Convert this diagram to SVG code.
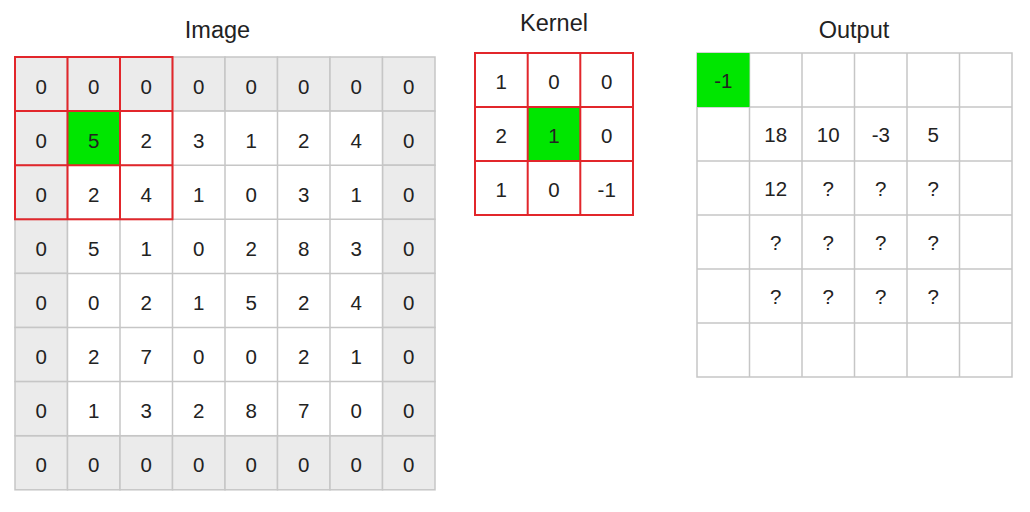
<svg xmlns="http://www.w3.org/2000/svg" width="1030" height="512" viewBox="0 0 1030 512">
<style>
.t{font-family:"Liberation Sans",Arial,sans-serif;font-size:20.5px;fill:#222;text-anchor:middle}
.h{font-family:"Liberation Sans",Arial,sans-serif;font-size:23.5px;fill:#222;text-anchor:middle}
.g{fill:#ebebeb;stroke:#c6c6c6;stroke-width:1.5}
.w{fill:#fff;stroke:#c6c6c6;stroke-width:1.5}
.r{fill:none;stroke:#e2262b;stroke-width:2}
.gr{fill:#00e600}
</style>
<rect width="1030" height="512" fill="#fff"/>
<g id="titles">
<text class="h" x="217.5" y="38">Image</text>
<text class="h" x="554" y="31">Kernel</text>
<text class="h" x="854" y="38">Output</text>
</g>
<g id="image">
<rect class="g" x="15" y="57" width="52.5" height="54.1"/><rect class="g" x="67.5" y="57" width="52.5" height="54.1"/><rect class="g" x="120" y="57" width="52.5" height="54.1"/><rect class="g" x="172.5" y="57" width="52.5" height="54.1"/><rect class="g" x="225" y="57" width="52.5" height="54.1"/><rect class="g" x="277.5" y="57" width="52.5" height="54.1"/><rect class="g" x="330" y="57" width="52.5" height="54.1"/><rect class="g" x="382.5" y="57" width="52.5" height="54.1"/>
<rect class="g" x="15" y="435.7" width="52.5" height="54.1"/><rect class="g" x="67.5" y="435.7" width="52.5" height="54.1"/><rect class="g" x="120" y="435.7" width="52.5" height="54.1"/><rect class="g" x="172.5" y="435.7" width="52.5" height="54.1"/><rect class="g" x="225" y="435.7" width="52.5" height="54.1"/><rect class="g" x="277.5" y="435.7" width="52.5" height="54.1"/><rect class="g" x="330" y="435.7" width="52.5" height="54.1"/><rect class="g" x="382.5" y="435.7" width="52.5" height="54.1"/>
<rect class="g" x="15" y="111.1" width="52.5" height="54.1"/><rect class="g" x="15" y="165.2" width="52.5" height="54.1"/><rect class="g" x="15" y="219.3" width="52.5" height="54.1"/><rect class="g" x="15" y="273.4" width="52.5" height="54.1"/><rect class="g" x="15" y="327.5" width="52.5" height="54.1"/><rect class="g" x="15" y="381.6" width="52.5" height="54.1"/>
<rect class="g" x="382.5" y="111.1" width="52.5" height="54.1"/><rect class="g" x="382.5" y="165.2" width="52.5" height="54.1"/><rect class="g" x="382.5" y="219.3" width="52.5" height="54.1"/><rect class="g" x="382.5" y="273.4" width="52.5" height="54.1"/><rect class="g" x="382.5" y="327.5" width="52.5" height="54.1"/><rect class="g" x="382.5" y="381.6" width="52.5" height="54.1"/>
<rect class="w" x="67.5" y="111.1" width="315" height="324.6"/>
<g fill="none" stroke="#c6c6c6" stroke-width="1.5">
<path d="M120 111.1V435.7M172.5 111.1V435.7M225 111.1V435.7M277.5 111.1V435.7M330 111.1V435.7M67.5 165.2H382.5M67.5 219.3H382.5M67.5 273.4H382.5M67.5 327.5H382.5M67.5 381.6H382.5"/>
</g>
<rect class="gr" x="67.5" y="111.1" width="52.5" height="54.1"/>
<g class="r">
<rect x="15" y="57" width="157.5" height="162.3"/>
<path d="M67.5 57V219.3M120 57V219.3M15 111.1H172.5M15 165.2H172.5"/>
</g>
<g class="t">
<text x="41.25" y="93.5">0</text><text x="93.75" y="93.5">0</text><text x="146.25" y="93.5">0</text><text x="198.75" y="93.5">0</text><text x="251.25" y="93.5">0</text><text x="303.75" y="93.5">0</text><text x="356.25" y="93.5">0</text><text x="408.75" y="93.5">0</text>
<text x="41.25" y="147.7">0</text><text x="93.75" y="147.7">5</text><text x="146.25" y="147.7">2</text><text x="198.75" y="147.7">3</text><text x="251.25" y="147.7">1</text><text x="303.75" y="147.7">2</text><text x="356.25" y="147.7">4</text><text x="408.75" y="147.7">0</text>
<text x="41.25" y="201.8">0</text><text x="93.75" y="201.8">2</text><text x="146.25" y="201.8">4</text><text x="198.75" y="201.8">1</text><text x="251.25" y="201.8">0</text><text x="303.75" y="201.8">3</text><text x="356.25" y="201.8">1</text><text x="408.75" y="201.8">0</text>
<text x="41.25" y="255.9">0</text><text x="93.75" y="255.9">5</text><text x="146.25" y="255.9">1</text><text x="198.75" y="255.9">0</text><text x="251.25" y="255.9">2</text><text x="303.75" y="255.9">8</text><text x="356.25" y="255.9">3</text><text x="408.75" y="255.9">0</text>
<text x="41.25" y="310">0</text><text x="93.75" y="310">0</text><text x="146.25" y="310">2</text><text x="198.75" y="310">1</text><text x="251.25" y="310">5</text><text x="303.75" y="310">2</text><text x="356.25" y="310">4</text><text x="408.75" y="310">0</text>
<text x="41.25" y="364.1">0</text><text x="93.75" y="364.1">2</text><text x="146.25" y="364.1">7</text><text x="198.75" y="364.1">0</text><text x="251.25" y="364.1">0</text><text x="303.75" y="364.1">2</text><text x="356.25" y="364.1">1</text><text x="408.75" y="364.1">0</text>
<text x="41.25" y="418.2">0</text><text x="93.75" y="418.2">1</text><text x="146.25" y="418.2">3</text><text x="198.75" y="418.2">2</text><text x="251.25" y="418.2">8</text><text x="303.75" y="418.2">7</text><text x="356.25" y="418.2">0</text><text x="408.75" y="418.2">0</text>
<text x="41.25" y="472.3">0</text><text x="93.75" y="472.3">0</text><text x="146.25" y="472.3">0</text><text x="198.75" y="472.3">0</text><text x="251.25" y="472.3">0</text><text x="303.75" y="472.3">0</text><text x="356.25" y="472.3">0</text><text x="408.75" y="472.3">0</text>
</g>
</g>
<g id="kernel">
<rect x="475" y="53" width="158" height="162" fill="#fff"/>
<rect class="gr" x="527.7" y="107" width="52.6" height="54"/>
<g class="r">
<rect x="475" y="53" width="158" height="162"/>
<path d="M527.7 53V215M580.3 53V215M475 107H633M475 161H633"/>
</g>
<g class="t">
<text x="501.3" y="88.5">1</text><text x="554" y="88.5">0</text><text x="606.7" y="88.5">0</text>
<text x="501.3" y="142.5">2</text><text x="554" y="142.5">1</text><text x="606.7" y="142.5">0</text>
<text x="501.3" y="196.5">1</text><text x="554" y="196.5">0</text><text x="606.7" y="196.5">-1</text>
</g>
</g>
<g id="output">
<rect x="697" y="53" width="315" height="324" fill="#fff" stroke="#c6c6c6" stroke-width="1.5"/>
<path d="M749.5 53V377M802 53V377M854.5 53V377M907 53V377M959.5 53V377M697 107H1012M697 161H1012M697 215H1012M697 269H1012M697 323H1012" fill="none" stroke="#c6c6c6" stroke-width="1.5"/>
<rect class="gr" x="697" y="53" width="52.5" height="54"/>
<g class="t">
<text x="723.25" y="88">-1</text>
<text x="775.75" y="142">18</text><text x="828.25" y="142">10</text><text x="880.75" y="142">-3</text><text x="933.25" y="142">5</text>
<text x="775.75" y="196">12</text><text x="828.25" y="196">?</text><text x="880.75" y="196">?</text><text x="933.25" y="196">?</text>
<text x="775.75" y="250">?</text><text x="828.25" y="250">?</text><text x="880.75" y="250">?</text><text x="933.25" y="250">?</text>
<text x="775.75" y="304">?</text><text x="828.25" y="304">?</text><text x="880.75" y="304">?</text><text x="933.25" y="304">?</text>
</g>
</g>
<g id="connectors"/>
</svg>
